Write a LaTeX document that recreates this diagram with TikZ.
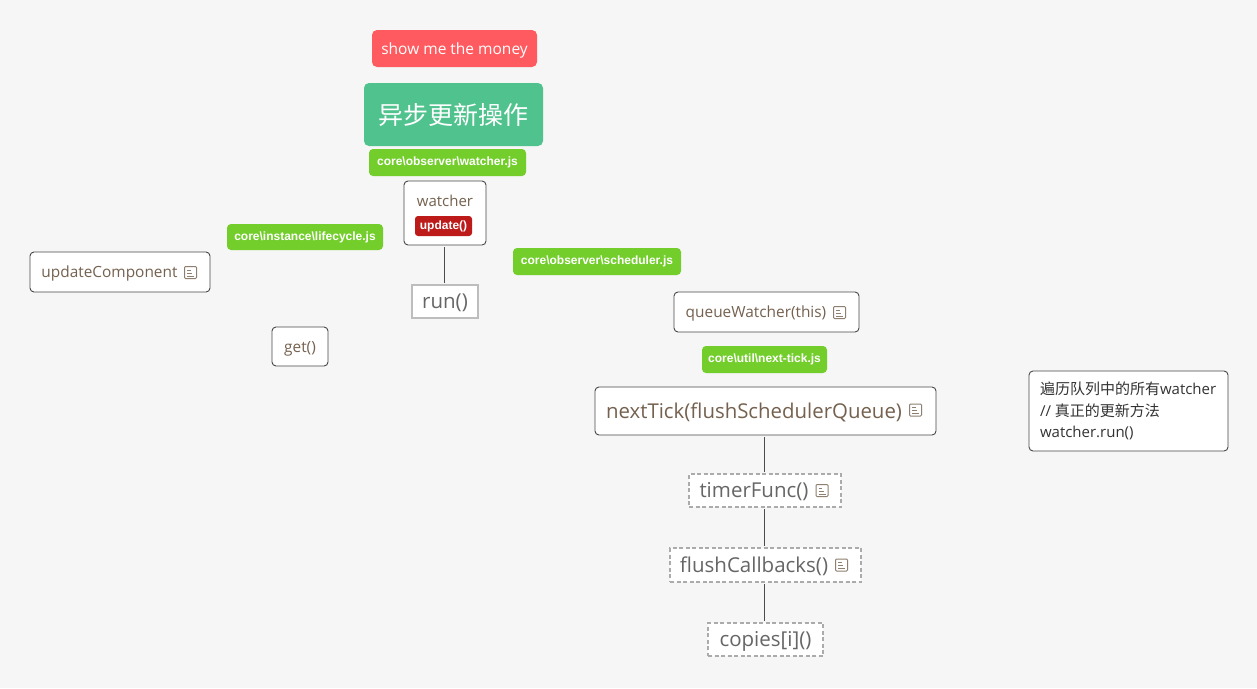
\documentclass[tikz,border=0pt]{standalone}
\usepackage{fontspec}
\setmainfont{Open Sans}
\newfontfamily\cjk{Noto Sans CJK SC}
\newfontfamily\tagfont{Liberation Sans}
\usetikzlibrary{calc}
\definecolor{bgc}{HTML}{F6F6F6}
\definecolor{brownt}{HTML}{75614F}
\definecolor{grayt}{HTML}{666666}
\definecolor{iconc}{HTML}{8F7F70}
\definecolor{tagg}{HTML}{73CE2C}
\definecolor{moneyc}{HTML}{FF5A5F}
\definecolor{titlec}{HTML}{50C28D}
\definecolor{updatec}{HTML}{BD1A1A}
\newcommand{\lift}[1]{\raisebox{-.36em}[0pt][0pt]{#1}}
\tikzset{
  px/.style={x=1pt,y=-1pt},
  plain/.style={inner sep=0pt,outer sep=0pt,align=center},
  card/.style={plain,draw=black!72,fill=white,rounded corners=4pt,line width=.9pt,text=brownt},
  runbox/.style={plain,draw=black!26,fill=white,line width=1.1pt,text=grayt},
  dashbox/.style={plain,draw=black!33,fill=white,dash pattern=on 4pt off 2.5pt,line width=1.1pt,text=grayt},
  greentag/.style={plain,fill=tagg,rounded corners=4pt,text=white,font=\tagfont\bfseries\fontsize{12}{15}\selectfont},
  link/.style={draw=black!70,line width=.8pt,shorten >=2pt,shorten <=2pt},
  noteicon/.pic={
    \draw[iconc,line width=1pt,rounded corners=1pt] (-6,-6) rectangle (6,6);
    \draw[iconc,line width=1pt] (-3.5,-2.5) -- (0,-2.5) (-3.5,.5) -- (1.5,.5) (-3.5,3.5) -- (3.5,3.5);
  }
}
\newcommand{\bx}[7]{%
  \pgfmathsetmacro{\cxv}{(#3+#5)/2}\pgfmathsetmacro{\cyv}{(#4+#6)/2}%
  \pgfmathsetmacro{\wv}{#5-#3}\pgfmathsetmacro{\hv}{#6-#4}%
  \node[#2,minimum width=\wv pt,minimum height=\hv pt] (#1) at (\cxv,\cyv) {#7};}
\begin{document}
\begin{tikzpicture}[px]
\useasboundingbox[fill=bgc] (0,0) rectangle (1257,688);
\bx{money}{plain,fill=moneyc,rounded corners=5pt,text=white,font=\fontsize{15.5}{18}\selectfont}{372}{30}{537}{67}{\lift{show me the money}}
\bx{title}{plain,fill=titlec,rounded corners=5pt,text=white,font=\cjk\fontsize{25}{30}\selectfont}{364}{83}{543}{146}{异步更新操作}
\bx{tagwatcher}{greentag}{369}{149}{526}{176}{core\textbackslash observer\textbackslash watcher.js}
\bx{watcher}{card}{404}{181}{486}{245}{}
\node[plain,text=brownt,font=\fontsize{15}{18}\selectfont] (watchertext) at (445,201) {watcher};
\bx{update}{plain,fill=updatec,rounded corners=3pt,text=white,font=\tagfont\bfseries\fontsize{12}{15}\selectfont}{415}{216}{472}{236}{update()}
\bx{taglife}{greentag}{227}{224}{383}{250}{core\textbackslash instance\textbackslash lifecycle.js}
\bx{updcomp}{card,font=\fontsize{15.4}{18}\selectfont}{30}{252}{210}{292}{\lift{updateComponent}\hspace{21pt}}
\pic at (190.5,272.5) {noteicon};
\bx{run}{runbox,font=\fontsize{20.5}{24}\selectfont}{412}{285}{478}{318}{\lift{run()}}
\bx{get}{card,font=\fontsize{15.4}{18}\selectfont}{272}{327}{328}{366}{\lift{get()}}
\bx{tagsched}{greentag}{513}{248}{681}{275}{core\textbackslash observer\textbackslash scheduler.js}
\bx{queue}{card,font=\fontsize{15.4}{18}\selectfont}{674}{292}{859}{332}{\lift{queueWatcher(this)}\hspace{21pt}}
\pic at (839.5,312.5) {noteicon};
\bx{tagtick}{greentag}{702}{346}{827}{373}{core\textbackslash util\textbackslash next-tick.js}
\bx{nexttick}{card,font=\fontsize{20.4}{24}\selectfont}{595}{387}{936}{435}{\lift{nextTick(flushSchedulerQueue)}\hspace{23pt}}
\pic at (915.5,410) {noteicon};
\bx{timer}{dashbox,font=\fontsize{20.5}{24}\selectfont}{689}{474}{841}{507}{\lift{timerFunc()}\hspace{22pt}}
\pic at (822,490.5) {noteicon};
\bx{flush}{dashbox,font=\fontsize{20.5}{24}\selectfont}{670}{548}{861}{582}{\lift{flushCallbacks()}\hspace{23pt}}
\pic at (841.5,565) {noteicon};
\bx{copies}{dashbox,font=\fontsize{20.5}{24}\selectfont}{708}{623}{823}{656}{\lift{copies[i]()}}
\bx{note}{card}{1029}{371}{1228}{451}{}
\node[plain,anchor=west,align=left,text=black!80,font=\fontsize{15}{21.5}\selectfont] (notetext) at (1040,411) {{\cjk 遍历队列中的所有}watcher\\// {\cjk 真正的更新方法}\\watcher.run()};
\draw[link] ([xshift=-1pt]watcher.south) -- ([xshift=-1pt]watcher.south |- run.north);
\draw[link] ([xshift=-1pt]nexttick.south) -- ([xshift=-1pt]nexttick.south |- timer.north);
\draw[link] ([xshift=-1pt]timer.south) -- ([xshift=-1pt]timer.south |- flush.north);
\draw[link] ([xshift=-1pt]flush.south) -- ([xshift=-1pt]flush.south |- copies.north);
\end{tikzpicture}
\end{document}
